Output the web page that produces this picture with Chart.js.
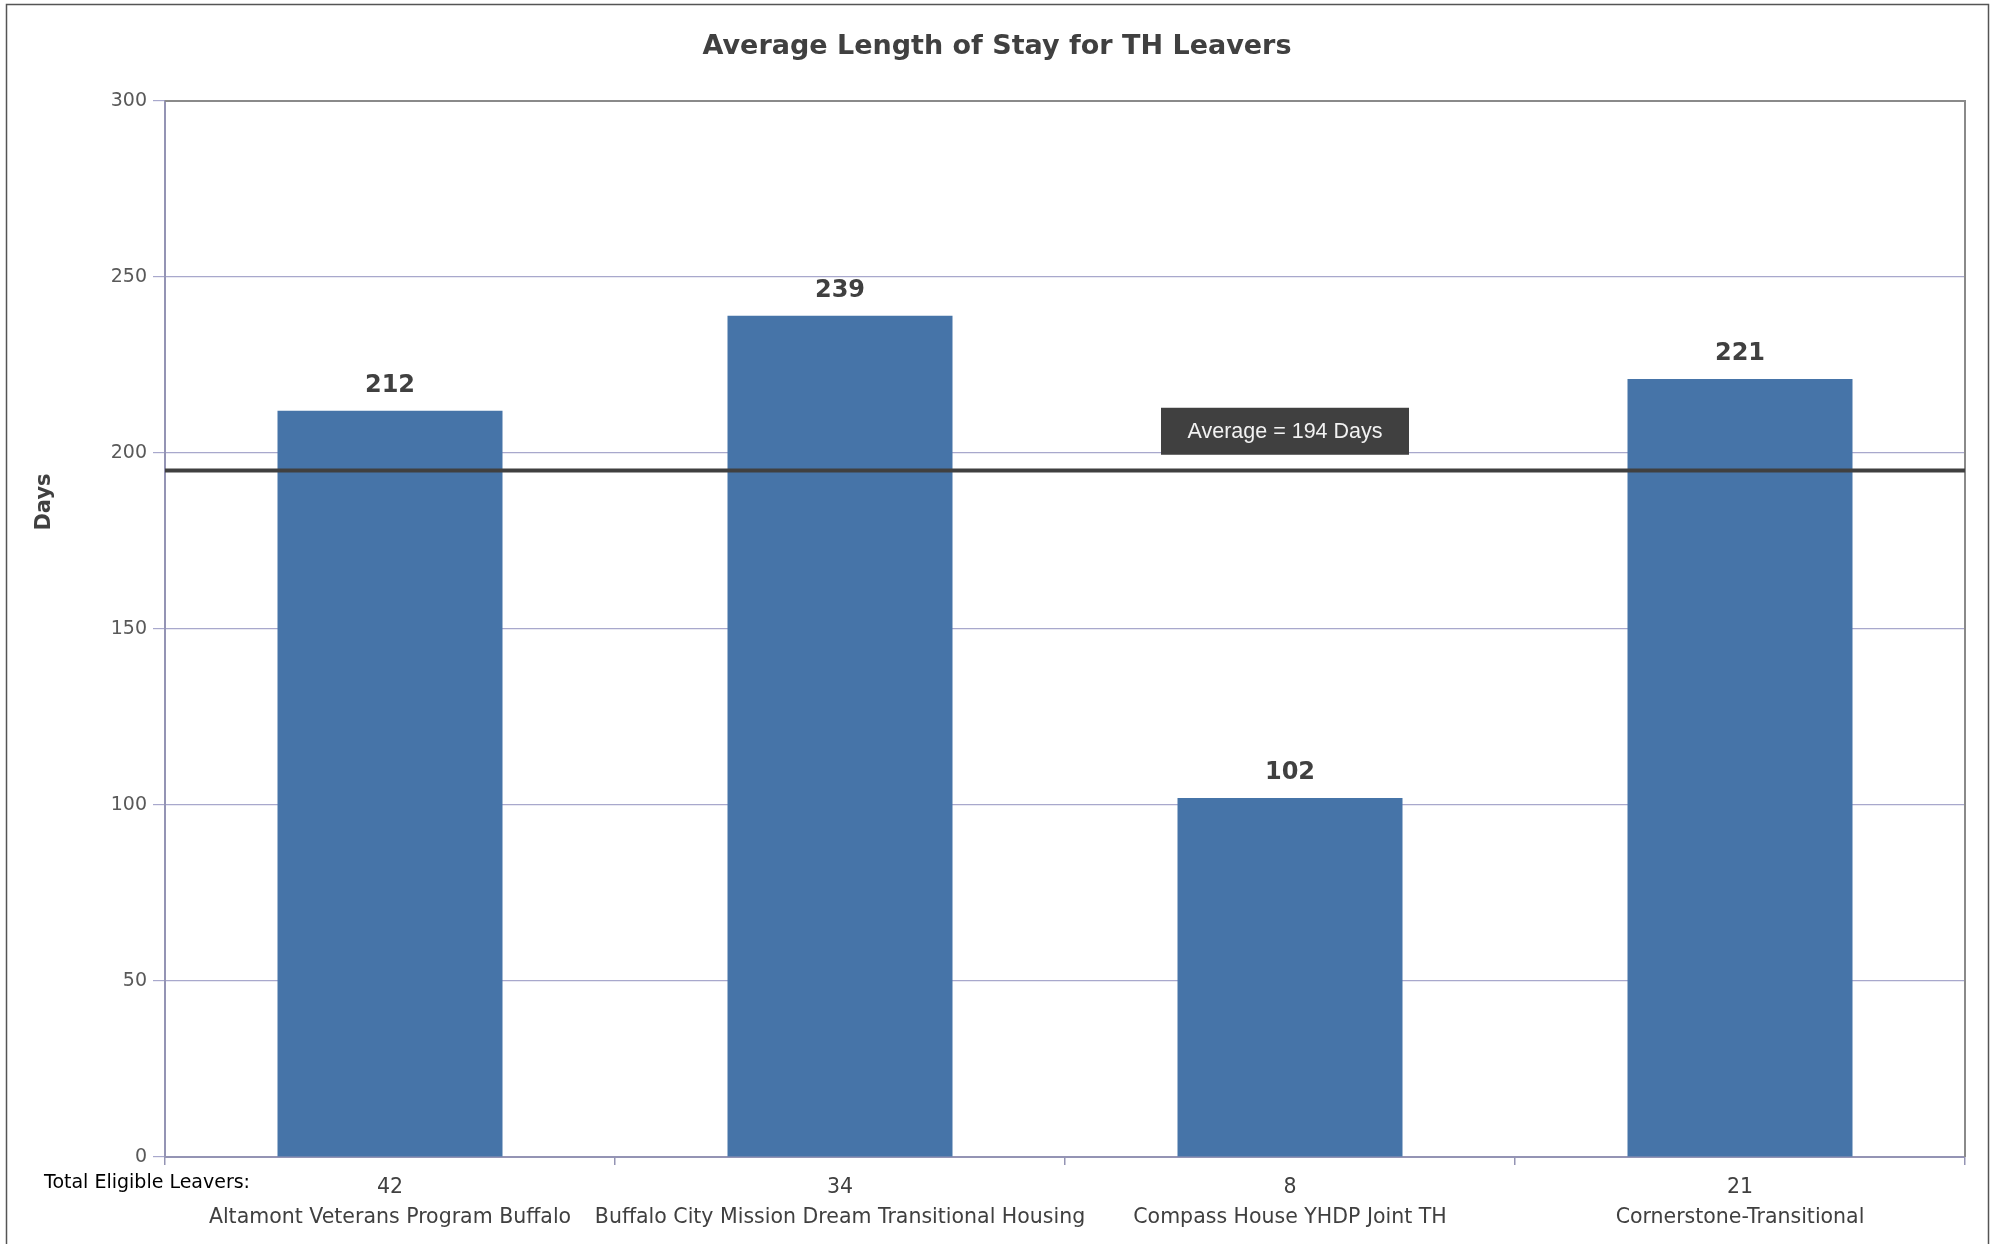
<!DOCTYPE html>
<html>
<head>
<meta charset="utf-8">
<script src="https://cdn.jsdelivr.net/npm/chart.js@4.4.0/dist/chart.umd.min.js"></script>
<style>
    html, body { margin: 0; padding: 0; background: #fff; }
    .chart-wrap { width: 1995px; height: 1244px; position: relative; }
</style>
</head>
<body>
<div class="chart-wrap"><canvas id="stayChart"></canvas></div>
<script>
// chart data
const programs = ['Altamont Veterans Program Buffalo', 'Buffalo City Mission Dream Transitional Housing', 'Compass House YHDP Joint TH', 'Cornerstone-Transitional'];
const leavers = [42, 34, 8, 21];
const stayDays = [212, 239, 102, 221];
const averageLabel = 194;   // value printed in the box
const averageLine = 195;    // where the line sits in the picture
const yTicks = [0, 50, 100, 150, 200, 250, 300];

const fontFamily = '"DejaVu Sans", sans-serif';
const textColor = '#404040';

// two line labels: leaver count on top, program name under it
const xLabels = programs.map((name, i) => [String(leavers[i]), name]);

// outer frame, title, plot border, average line, value labels
const decorPlugin = {
    id: 'decor',
    beforeDraw(chart) {
        const ctx = chart.ctx;
        ctx.save();
        ctx.fillStyle = '#fff';
        ctx.fillRect(0, 0, chart.width, chart.height);
        ctx.strokeStyle = '#555';
        ctx.lineWidth = 1.5;
        ctx.strokeRect(6.5, 4.5, 1982, 1250);
        ctx.restore();
    },
    afterDatasetsDraw(chart) {
        const ctx = chart.ctx;
        const area = chart.chartArea;
        const y = chart.scales.y;
        const x = chart.scales.x;
        ctx.save();

        // top + right border of the plot
        ctx.strokeStyle = '#8a8a8a';
        ctx.lineWidth = 2;
        ctx.beginPath();
        ctx.moveTo(area.left, area.top);
        ctx.lineTo(area.right, area.top);
        ctx.lineTo(area.right, area.bottom);
        ctx.stroke();

        // average line
        const avgY = y.getPixelForValue(averageLine);
        ctx.strokeStyle = '#404040';
        ctx.lineWidth = 4;
        ctx.beginPath();
        ctx.moveTo(area.left, avgY);
        ctx.lineTo(area.right, avgY);
        ctx.stroke();

        // average box
        const boxW = 248, boxH = 47;
        const boxX = x.getPixelForValue(2) - boxW / 2 - 5;
        const boxBottom = y.getPixelForValue(199.5);
        ctx.fillStyle = '#404040';
        ctx.fillRect(boxX, boxBottom - boxH, boxW, boxH);
        ctx.fillStyle = '#f2f2f2';
        ctx.font = '21.5px "Liberation Sans", Arial, sans-serif';
        ctx.textAlign = 'center';
        ctx.textBaseline = 'middle';
        ctx.fillText('Average = ' + averageLabel + ' Days', boxX + boxW / 2, boxBottom - boxH / 2 + 1);

        // value labels above the bars
        const meta = chart.getDatasetMeta(0);
        ctx.fillStyle = textColor;
        ctx.font = 'bold 24px ' + fontFamily;
        meta.data.forEach((bar, i) => {
            ctx.fillText(String(stayDays[i]), bar.x, bar.y - 25);
        });

        // title
        ctx.font = 'bold 27px ' + fontFamily;
        ctx.fillText('Average Length of Stay for TH Leavers', 997, 47);

        // y axis title, sits above the middle like the original
        ctx.save();
        ctx.translate(45, 502);
        ctx.rotate(-Math.PI / 2);
        ctx.font = 'bold 21px ' + fontFamily;
        ctx.fillText('Days', 0, 0);
        ctx.restore();

        // row caption for the leaver counts
        ctx.fillStyle = '#000';
        ctx.textAlign = 'left';
        ctx.font = '19px ' + fontFamily;
        ctx.fillText('Total Eligible Leavers:', 44, 1183);

        ctx.restore();
    }
};

new Chart(document.getElementById('stayChart'), {
    type: 'bar',
    data: {
        labels: xLabels,
        datasets: [{
            label: 'Days',
            data: stayDays,
            backgroundColor: '#4674a8',
            barPercentage: 0.5,
            categoryPercentage: 1
        }]
    },
    options: {
        responsive: true,
        maintainAspectRatio: false,
        animation: false,
        layout: { padding: { top: 101, right: 30, left: 0, bottom: 0 } },
        plugins: {
            legend: { display: false },
            tooltip: { enabled: false }
        },
        scales: {
            x: {
                grid: { offset: true, drawOnChartArea: false, color: '#9494b4', tickLength: 8, lineWidth: 1.5 },
                border: { color: '#9494b4', width: 2 },
                ticks: {
                    color: textColor,
                    font: { family: fontFamily, size: 20.5, lineHeight: 1.45 },
                    padding: 8,
                    maxRotation: 0,
                    autoSkip: false
                },
                afterFit(scale) { scale.height = 87; }
            },
            y: {
                min: 0,
                max: 300,
                afterBuildTicks(scale) { scale.ticks = yTicks.map(v => ({ value: v })); },
                grid: { color: '#a8a8cc', lineWidth: 1.2, tickLength: 12 },
                border: { color: '#9494b4', width: 2 },
                ticks: {
                    color: '#595959',
                    font: { family: fontFamily, size: 19 },
                    padding: 6
                },
                afterFit(scale) { scale.width = 165; }
            }
        }
    },
    plugins: [decorPlugin]
});
</script>
</body>
</html>
